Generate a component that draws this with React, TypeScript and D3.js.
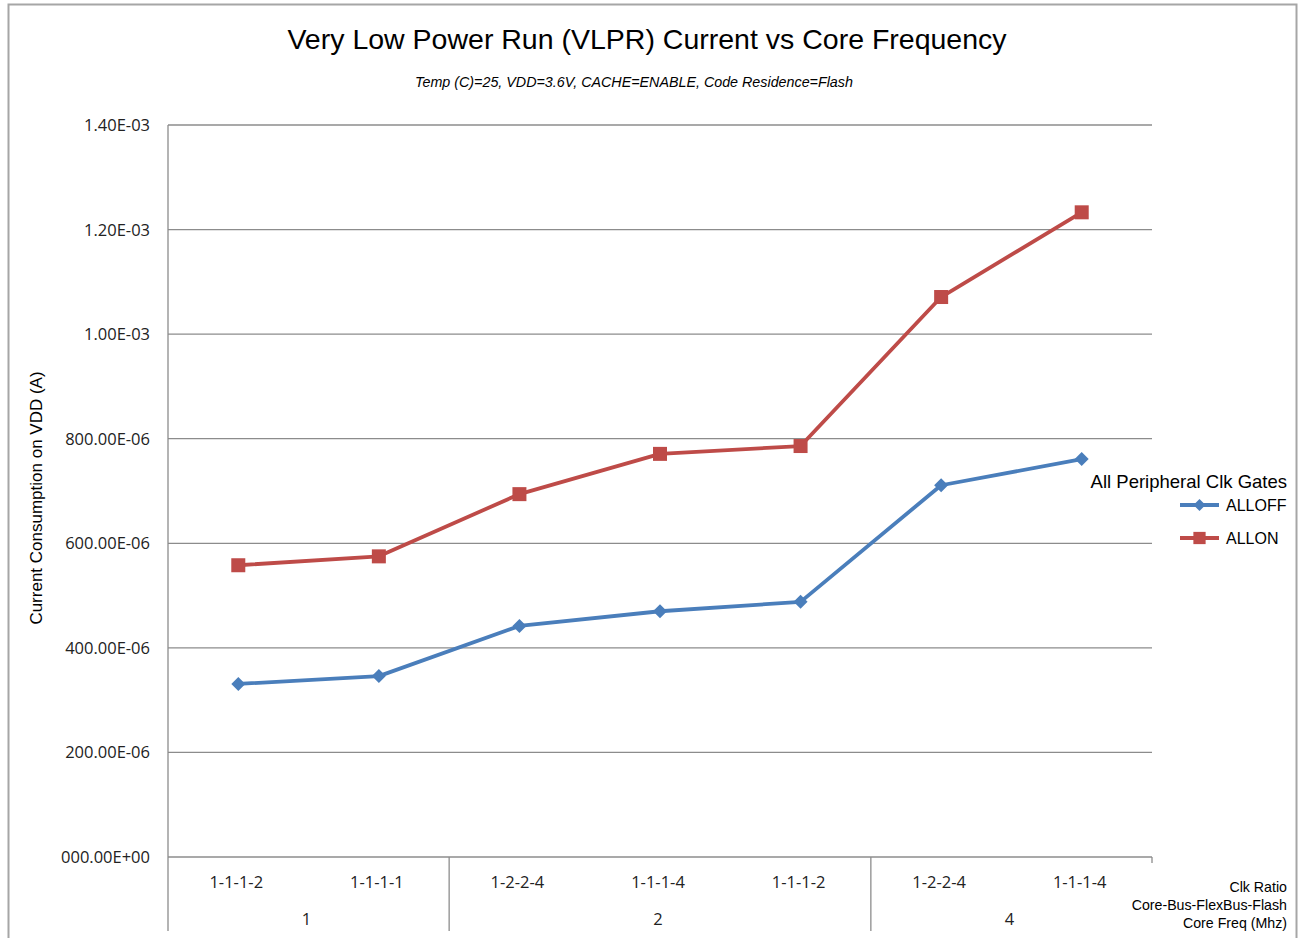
import React, {useEffect, useRef} from 'react';
import * as d3 from 'd3';

const categories = ['1-1-1-2', '1-1-1-1', '1-2-2-4', '1-1-1-4', '1-1-1-2', '1-2-2-4', '1-1-1-4'];
const groups = [
  {label: '1', span: 2},
  {label: '2', span: 3},
  {label: '4', span: 2},
];
const allOff = [331e-6, 346e-6, 442e-6, 470e-6, 488e-6, 711e-6, 761e-6];
const allOn = [558e-6, 575e-6, 694e-6, 771e-6, 786e-6, 1071e-6, 1233e-6];
const yTicks = [0, 200e-6, 400e-6, 600e-6, 800e-6, 1.0e-3, 1.2e-3, 1.4e-3];
const yTickLabels = [
  '000.00E+00',
  '200.00E-06',
  '400.00E-06',
  '600.00E-06',
  '800.00E-06',
  '1.00E-03',
  '1.20E-03',
  '1.40E-03',
];

const W = 1299;
const H = 938;
const BLUE = '#4A7EBB';
const RED = '#BE4B48';
const GRID = '#8c8c8c';
const TICK_FONT = '16.5px "Open Sans", "DejaVu Sans", sans-serif';

export default function App() {
  const svgRef = useRef<SVGSVGElement>(null);

  useEffect(() => {
    if (!svgRef.current) return;
    const svg = d3.select(svgRef.current);
    svg.selectAll('*').remove();

    const left = 168;
    const right = 1152;
    const top = 125;
    const bottom = 857;

    const x = d3
      .scaleBand<number>()
      .domain(d3.range(categories.length))
      .range([left, right]);
    const y = d3.scaleLinear().domain([0, 1.4e-3]).range([bottom, top]);
    const cx = (i: number) => (x(i) as number) + x.bandwidth() / 2;

    // outer frame
    svg
      .append('rect')
      .attr('x', 8.5)
      .attr('y', 4.5)
      .attr('width', 1288)
      .attr('height', H + 20)
      .attr('fill', 'white')
      .attr('stroke', '#a6a6a6')
      .attr('stroke-width', 2);

    // title
    svg
      .append('text')
      .attr('x', 647)
      .attr('y', 49)
      .attr('text-anchor', 'middle')
      .style('font', '28.5px "Liberation Sans", Arial, sans-serif')
      .text('Very Low Power Run (VLPR) Current vs Core Frequency');
    svg
      .append('text')
      .attr('x', 634)
      .attr('y', 87)
      .attr('text-anchor', 'middle')
      .style('font', 'italic 14.3px "Liberation Sans", Arial, sans-serif')
      .text('Temp (C)=25, VDD=3.6V, CACHE=ENABLE, Code Residence=Flash');

    // gridlines
    svg
      .append('g')
      .selectAll('line')
      .data(yTicks)
      .join('line')
      .attr('x1', left)
      .attr('x2', right)
      .attr('y1', (d) => y(d))
      .attr('y2', (d) => y(d))
      .attr('stroke', GRID)
      .attr('stroke-width', 1.3);

    // y tick labels
    svg
      .append('g')
      .selectAll('text')
      .data(yTicks)
      .join('text')
      .attr('x', 150)
      .attr('y', (d) => y(d) + 6)
      .attr('text-anchor', 'end')
      .style('font', TICK_FONT)
      .attr('fill', '#222')
      .text((d, i) => yTickLabels[i]);

    // y axis line through category levels
    svg
      .append('line')
      .attr('x1', left)
      .attr('x2', left)
      .attr('y1', top)
      .attr('y2', 931)
      .attr('stroke', GRID)
      .attr('stroke-width', 1.3);
    svg
      .append('line')
      .attr('x1', right)
      .attr('x2', right)
      .attr('y1', bottom)
      .attr('y2', bottom + 6)
      .attr('stroke', GRID)
      .attr('stroke-width', 1.3);

    // group dividers
    let acc = 0;
    const groupPos = groups.map((g) => {
      const start = acc;
      acc += g.span;
      return {label: g.label, start, end: acc};
    });
    svg
      .append('g')
      .selectAll('line')
      .data(groupPos.slice(1))
      .join('line')
      .attr('x1', (d) => x(d.start) as number)
      .attr('x2', (d) => x(d.start) as number)
      .attr('y1', bottom)
      .attr('y2', 931)
      .attr('stroke', GRID)
      .attr('stroke-width', 1.3);

    svg
      .append('g')
      .selectAll('text')
      .data(categories)
      .join('text')
      .attr('x', (d, i) => cx(i) - 2)
      .attr('y', 888)
      .attr('text-anchor', 'middle')
      .style('font', TICK_FONT)
      .attr('fill', '#222')
      .text((d) => d);
    svg
      .append('g')
      .selectAll('text')
      .data(groupPos)
      .join('text')
      .attr('x', (d) => ((x(d.start) as number) + (d.end < categories.length ? (x(d.end) as number) : right)) / 2 - 2)
      .attr('y', 925)
      .attr('text-anchor', 'middle')
      .style('font', TICK_FONT)
      .attr('fill', '#222')
      .text((d) => d.label);

    // x axis title lines
    const xTitle = ['Clk Ratio', 'Core-Bus-FlexBus-Flash', 'Core Freq (Mhz)'];
    svg
      .append('g')
      .selectAll('text')
      .data(xTitle)
      .join('text')
      .attr('x', 1287)
      .attr('y', (d, i) => 892 + i * 18)
      .attr('text-anchor', 'end')
      .style('font', '14.2px "Liberation Sans", Arial, sans-serif')
      .text((d) => d);

    // y axis title
    svg
      .append('text')
      .attr('transform', 'translate(42,498) rotate(-90)')
      .attr('text-anchor', 'middle')
      .style('font', '17px "Liberation Sans", Arial, sans-serif')
      .text('Current Consumption on VDD (A)');

    // series
    const line = d3
      .line<number>()
      .x((d, i) => cx(i))
      .y((d) => y(d));

    // Excel-style diamond: a square turned 45 degrees
    const diamondPath = (r: number) => `M0,${-r}L${r},0L0,${r}L${-r},0Z`;

    svg
      .append('path')
      .attr('d', line(allOff))
      .attr('fill', 'none')
      .attr('stroke', BLUE)
      .attr('stroke-width', 3.8)
      .attr('stroke-linejoin', 'round');
    svg
      .append('g')
      .selectAll('path')
      .data(allOff)
      .join('path')
      .attr('d', diamondPath(7))
      .attr('transform', (d, i) => `translate(${cx(i)},${y(d)})`)
      .attr('fill', BLUE);

    svg
      .append('path')
      .attr('d', line(allOn))
      .attr('fill', 'none')
      .attr('stroke', RED)
      .attr('stroke-width', 3.8)
      .attr('stroke-linejoin', 'round');
    svg
      .append('g')
      .selectAll('rect')
      .data(allOn)
      .join('rect')
      .attr('x', (d, i) => cx(i) - 7)
      .attr('y', (d) => y(d) - 7)
      .attr('width', 14)
      .attr('height', 14)
      .attr('fill', RED);

    // legend
    svg
      .append('text')
      .attr('x', 1287)
      .attr('y', 488)
      .attr('text-anchor', 'end')
      .style('font', '18.5px "Liberation Sans", Arial, sans-serif')
      .text('All Peripheral Clk Gates');
    const legend = [
      {name: 'ALLOFF', color: BLUE, shape: 'diamond', y: 505},
      {name: 'ALLON', color: RED, shape: 'square', y: 538},
    ];
    const lg = svg.append('g').selectAll('g').data(legend).join('g');
    lg.append('line')
      .attr('x1', 1180)
      .attr('x2', 1219)
      .attr('y1', (d) => d.y)
      .attr('y2', (d) => d.y)
      .attr('stroke', (d) => d.color)
      .attr('stroke-width', 3.8);
    lg.append('path')
      .attr('d', (d) =>
        d.shape === 'diamond'
          ? diamondPath(6)
          : (d3.symbol(d3.symbolSquare, 150)() as string),
      )
      .attr('transform', (d) => `translate(1199.5,${d.y})`)
      .attr('fill', (d) => d.color);
    lg.append('text')
      .attr('x', 1226)
      .attr('y', (d) => d.y + 5.5)
      .style('font', '16px "Liberation Sans", Arial, sans-serif')
      .text((d) => d.name);
  }, []);

  return (
    <svg
      ref={svgRef}
      width={W}
      height={H}
      style={{position: 'absolute', left: 0, top: 0, display: 'block'}}
    />
  );
}
